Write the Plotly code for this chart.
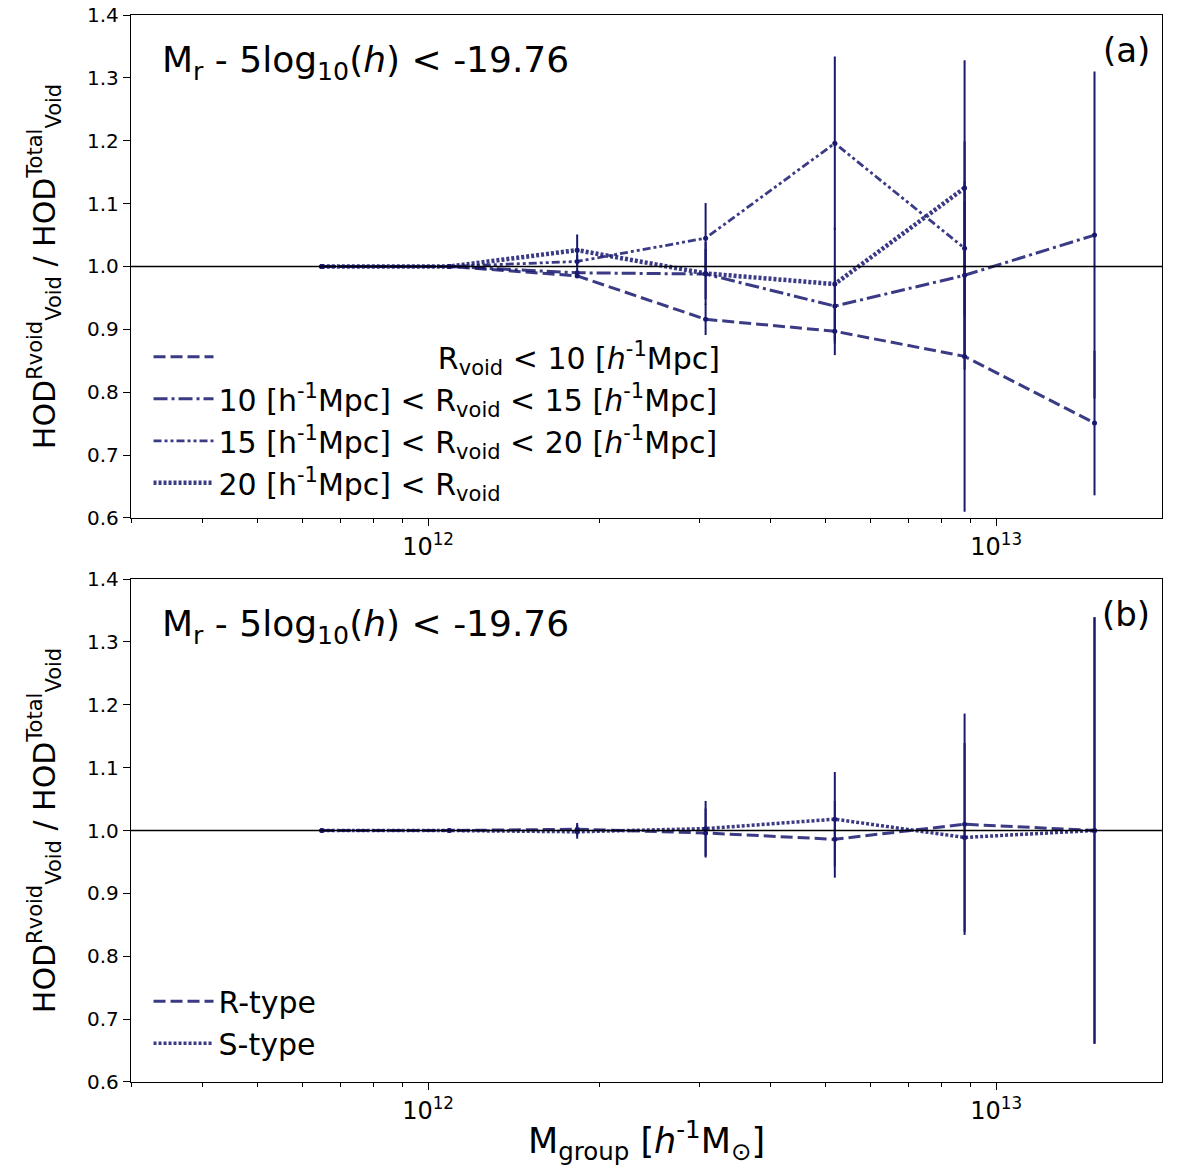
import plotly.graph_objects as go

# halo mass bins [h^-1 Msun]
mass = [6.5e11, 1.09e12, 1.83e12, 3.08e12, 5.2e12, 8.8e12, 1.49e13]

# panel (a): ratio by void radius
r_lt10 = [1.0, 1.0, 0.985, 0.916, 0.897, 0.857, 0.751]
r_lt10_err = [0.0, 0.0, 0.002, 0.025, 0.038, 0.247, 0.115]
r_10_15 = [1.0, 1.0, 0.990, 0.988, 0.937, 0.986, 1.050]
r_10_15_err = [0.0, 0.0, 0.008, 0.040, 0.060, 0.150, 0.260]
r_15_20 = [1.0, 1.0, 1.008, 1.045, 1.196, 1.029]
r_15_20_err = [0.0, 0.0, 0.010, 0.056, 0.138, 0.170]
r_gt20 = [1.0, 1.0, 1.026, 0.989, 0.972, 1.125]
r_gt20_err = [0.0, 0.0, 0.025, 0.050, 0.090, 0.203]

# panel (b): ratio by void type
r_type = [1.0, 1.0, 1.002, 0.996, 0.986, 1.010, 1.0]
r_type_err = [0.0, 0.0, 0.010, 0.039, 0.061, 0.176, 0.339]
s_type = [1.0, 1.0, 0.998, 1.003, 1.018, 0.989, 1.0]
s_type_err = [0.0, 0.0, 0.011, 0.044, 0.075, 0.150, 0.339]

y_ticks = [0.6, 0.7, 0.8, 0.9, 1.0, 1.1, 1.2, 1.3, 1.4]

line_col = "rgba(25,25,112,0.85)"
pt_col = "#191970"
FONT = "DejaVu Sans"

nb = "\u00a0"
top_series = [
    (r_lt10, r_lt10_err, "12px,5px", 3,
     nb * 23 + "R<sub>void</sub> < 10 [<i>h</i><sup>-1</sup>Mpc]"),
    (r_10_15, r_10_15_err, "14px,4px,3px,4px", 3,
     "10 [h<sup>-1</sup>Mpc] < R<sub>void</sub> < 15 [<i>h</i><sup>-1</sup>Mpc]"),
    (r_15_20, r_15_20_err, "8px,3px,3px,3px,3px,3px", 2.8,
     "15 [h<sup>-1</sup>Mpc] < R<sub>void</sub> < 20 [<i>h</i><sup>-1</sup>Mpc]"),
    (r_gt20, r_gt20_err, "3px,2px", 4.5,
     "20 [h<sup>-1</sup>Mpc] < R<sub>void</sub>"),
]
bottom_series = [
    (r_type, r_type_err, "12px,5px", 3, "R-type"),
    (s_type, s_type_err, "3px,2px", 3.5, "S-type"),
]

fig = go.Figure()


def add_panel(series, xa, ya, legend):
    for vals, errs, dash, lw, name in series:
        xs = mass[:len(vals)]
        fig.add_trace(go.Scatter(
            x=xs, y=vals, mode="lines", name=name, xaxis=xa, yaxis=ya,
            legend=legend, line=dict(color=line_col, width=lw, dash=dash)))
        fig.add_trace(go.Scatter(
            x=xs, y=vals, mode="markers", showlegend=False, xaxis=xa, yaxis=ya,
            marker=dict(color=pt_col, size=5),
            error_y=dict(type="data", array=errs, color=pt_col, thickness=2, width=0)))


add_panel(top_series, "x", "y", "legend")
add_panel(bottom_series, "x2", "y2", "legend2")

minor_vals = [k * 10 ** e for e in (11, 12, 13) for k in range(2, 10)]
xcommon = dict(type="log", range=[11.477, 13.292], tickvals=[1e12, 1e13],
               ticktext=["10<sup>12</sup>", "10<sup>13</sup>"],
               ticks="outside", ticklen=7, tickwidth=1.2, tickcolor="black",
               minor=dict(tickvals=minor_vals, ticks="outside", ticklen=4,
                          tickcolor="black", tickwidth=1),
               showline=True, linecolor="black", linewidth=1.3, mirror=True,
               showgrid=False, zeroline=False, automargin=False,
               tickfont=dict(size=24, color="black"))
ycommon = dict(range=[0.6, 1.4], tickvals=y_ticks, tickformat=".1f",
               ticks="outside", ticklen=7, tickwidth=1.2, tickcolor="black",
               showline=True, linecolor="black", linewidth=1.3, mirror=True,
               showgrid=False, zeroline=False, automargin=False,
               tickfont=dict(size=20, color="black"))
ytitle = dict(text="HOD<sup>Rvoid</sup><sub>Void</sub> / HOD<sup>Total</sup><sub>Void</sub>",
              font=dict(size=30, color="black"), standoff=22)

fig.update_layout(
    width=1200, height=1166,
    margin=dict(l=131, r=38, t=15, b=84),
    paper_bgcolor="white", plot_bgcolor="white",
    font=dict(family=FONT, color="black"),
    xaxis=dict(xcommon, domain=[0, 1], anchor="y"),
    yaxis=dict(ycommon, domain=[0.5286, 1.0], anchor="x", title=ytitle),
    xaxis2=dict(xcommon, domain=[0, 1], anchor="y2",
                title=dict(text="M<sub>group</sub> [<i>h</i><sup>-1</sup>M<sub>\u2299</sub>]",
                           font=dict(size=35, color="black"), standoff=8)),
    yaxis2=dict(ycommon, domain=[0.0, 0.4714], anchor="x2", title=ytitle),
    legend=dict(x=0.017, y=0.704, xanchor="left", yanchor="top",
                bgcolor="rgba(0,0,0,0)", font=dict(size=30, color="black"),
                tracegroupgap=0, itemwidth=60),
    legend2=dict(x=0.017, y=0.100, xanchor="left", yanchor="top",
                 bgcolor="rgba(0,0,0,0)", font=dict(size=30, color="black"),
                 tracegroupgap=0, itemwidth=60),
)

# reference line at unity
for xa, ya in (("x", "y"), ("x2", "y2")):
    fig.add_shape(type="line", xref=xa + " domain", yref=ya,
                  x0=0, x1=1, y0=1.0, y1=1.0, line=dict(color="black", width=1.3))

label = "M<sub>r</sub> - 5log<sub>10</sub>(<i>h</i>) < -19.76"
for xa, ya, tag in (("x", "y", "(a)"), ("x2", "y2", "(b)")):
    fig.add_annotation(text=label, xref=xa + " domain", yref=ya + " domain",
                       x=0.028, y=0.905, xanchor="left", yanchor="middle",
                       showarrow=False, font=dict(size=36, color="black"))
    fig.add_annotation(text=tag, xref=xa + " domain", yref=ya + " domain",
                       x=0.99, y=0.93, xanchor="right", yanchor="middle",
                       showarrow=False, font=dict(size=34, color="black"))

# drop the page's default body margin so the figure sits at the window corner
fig.write_html("out.html", config={"displayModeBar": False},
               post_script="document.body.style.margin='0';")
